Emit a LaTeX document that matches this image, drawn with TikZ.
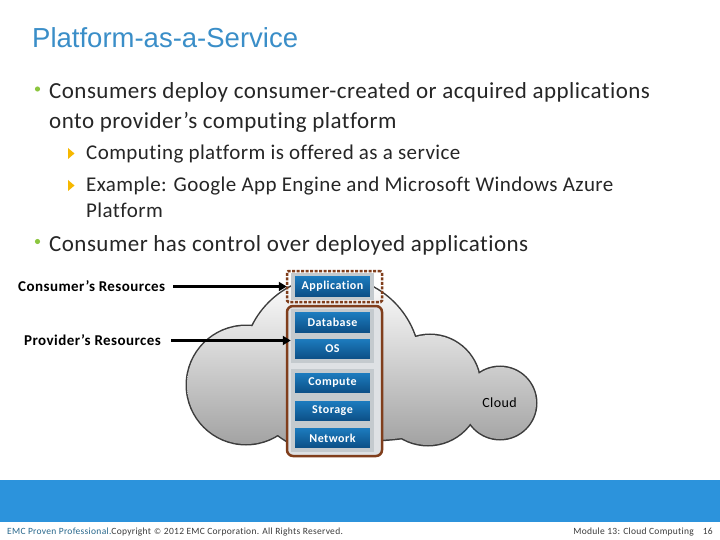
\documentclass[tikz,border=0pt]{standalone}
\usepackage{fontspec}
\setmainfont{Carlito}[Ligatures=NoCommon]
\newfontfamily\bodyfont{Carlito}[LetterSpace=2, Ligatures=NoCommon]
\newfontfamily\widefont{Carlito}[LetterSpace=3, Ligatures=NoCommon]
\newfontfamily\boxfont{Carlito}[LetterSpace=4, Ligatures=NoCommon]
\newfontfamily\titlefont{Liberation Sans}
\newfontfamily\symfont{DejaVu Sans}
\usetikzlibrary{arrows.meta}
\definecolor{titleblue}{RGB}{58,142,200}
\definecolor{txt}{RGB}{38,38,38}
\definecolor{bgreen}{RGB}{140,198,63}
\definecolor{byellow}{RGB}{246,184,0}
\definecolor{band}{RGB}{44,147,220}
\definecolor{brownf}{RGB}{128,62,28}
\definecolor{bluetop}{RGB}{30,128,196}
\definecolor{bluebot}{RGB}{10,74,128}
\definecolor{padgray}{RGB}{196,202,206}
\definecolor{panelgray}{RGB}{222,225,228}
\definecolor{cloudline}{RGB}{60,60,60}
\definecolor{teal}{RGB}{40,104,140}
\definecolor{foot}{RGB}{60,60,60}
\tikzset{
  layer/.style={minimum width=79pt, minimum height=24pt, inner sep=0pt,
    top color=bluetop, bottom color=bluebot, draw=padgray, line width=3.5pt,
    text=white, font=\boxfont\bfseries\fontsize{12}{12}\selectfont},
  mainbul/.style={anchor=base west, inner sep=0pt, text=txt, font=\bodyfont\fontsize{23}{26}\selectfont},
  subbul/.style={anchor=base west, inner sep=0pt, text=txt, font=\bodyfont\fontsize{21}{24}\selectfont},
  reslabel/.style={anchor=base west, inner sep=0pt, text=black, font=\widefont\bfseries\fontsize{15}{15}\selectfont},
  resarrow/.style={line width=3.2pt, -{Triangle[length=8pt,width=9pt]}},
  footfont/.style={inner sep=0pt, font=\widefont\fontsize{9.5}{10}\selectfont},
  cloudpath/.style={insert path={
    (246,385) circle[radius=59pt]
    (331.5,365) circle[radius=88pt]
    (320,400) circle[radius=50pt]
    (430,385) circle[radius=50pt]
    (428,393) circle[radius=52pt]
    (500,403) circle[radius=36pt]
    (370,400) ellipse[x radius=100pt, y radius=40pt]}}
}
\begin{document}
\begin{tikzpicture}[x=1pt,y=-1pt]
\useasboundingbox (0,0) rectangle (720,540);
\fill[white] (0,0) rectangle (720,540);
% title
\node[anchor=base west, inner sep=0pt, text=titleblue, font=\titlefont\fontsize{27.5}{29}\selectfont] (title) at (32,47.5) {Platform-as-a-Service};
% bullets
\fill[bgreen] (37.5,89) circle[radius=2.6pt];
\node[mainbul] (b1a) at (49,98.5) {Consumers deploy consumer-created or acquired applications};
\node[mainbul] (b1b) at (49,128.5) {onto provider’s computing platform};
\fill[byellow] (68,148) -- (74.5,153.5) -- (68,159) -- cycle;
\node[subbul] (s1) at (86,159.5) {Computing platform is offered as a service};
\fill[byellow] (68,180) -- (74.5,185.5) -- (68,191) -- cycle;
\node[subbul] (s2) at (86,191.5) {Example: Google App Engine and Microsoft Windows Azure};
\node[subbul] (s2b) at (86,217.5) {Platform};
\fill[bgreen] (37.5,241.5) circle[radius=2.6pt];
\node[mainbul] (b2) at (49,251.5) {Consumer has control over deployed applications};
% cloud
\draw[cloudline, line width=3pt, cloudpath];
\shade[top color=white, bottom color=black!38, cloudpath];
\node[inner sep=0pt, font=\widefont\fontsize{14}{14}\selectfont, text=black] (cloudlbl) at (499.5,403) {Cloud};
% frames
\node[draw=brownf, dashed, dash pattern=on 3pt off 1.5pt, line width=2.5pt, rounded corners=1.5pt, minimum width=95pt, minimum height=31pt, inner sep=0pt] (appframe) at (334.5,286.5) {};
\node[draw=brownf, fill=panelgray, line width=2.5pt, rounded corners=6pt, minimum width=95pt, minimum height=150pt, inner sep=0pt] (provframe) at (334.5,381) {};
% layers
\node[layer] (app) at (332.5,286.5) {Application};
\node[layer] (db) at (332.5,322.5) {Database};
\node[layer] (os) at (332.5,349) {OS};
\node[layer] (compute) at (332.5,383) {Compute};
\node[layer] (storage) at (332.5,411) {Storage};
\node[layer] (network) at (332.5,438) {Network};
% resource labels and arrows
\node[reslabel] (cons) at (18,291) {Consumer’s Resources};
\node[reslabel] (prov) at (24,345) {Provider’s Resources};
\draw[resarrow] ([xshift=8pt,yshift=4.5pt]cons.base east) -- ([xshift=1pt,yshift=4.5pt]appframe.west |- cons.base);
\draw[resarrow] ([xshift=10pt,yshift=4.5pt]prov.base east) -- ([xshift=5pt,yshift=4.5pt]provframe.west |- prov.base);
% band and footer
\fill[band] (0,480) rectangle (720,521.5);
\node[footfont, anchor=base west] (foot1) at (7,534) {\textcolor{teal}{EMC Proven Professional.}\textcolor{foot}{Copyright {\symfont\fontsize{8}{9}\selectfont ©} 2012 EMC Corporation. All Rights Reserved.}};
\node[footfont, anchor=base east, text=foot] (foot2) at (713,534) {Module 13: Cloud Computing\hspace{9pt}16};
\end{tikzpicture}
\end{document}
